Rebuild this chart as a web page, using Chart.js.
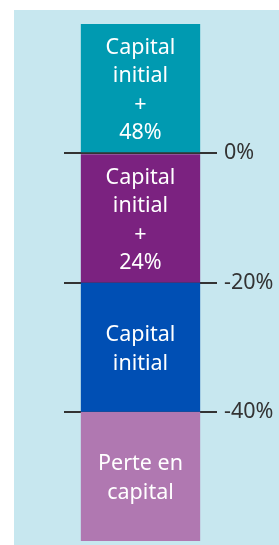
<!DOCTYPE html>
<html>
<head>
<meta charset="utf-8">
<script src="https://cdn.jsdelivr.net/npm/chart.js@4.4.0/dist/chart.umd.min.js"></script>
<style>
  html,body{margin:0;padding:0;background:#fff;}
  #wrap{position:relative;width:279px;height:545px;}
  #panel{position:absolute;left:14px;top:10px;right:0;bottom:0;background:#c7e7ef;}
  #c{position:absolute;left:0;top:0;}
</style>
</head>
<body>
<div id="wrap">
  <div id="panel"></div>
  <canvas id="c" width="279" height="545"></canvas>
</div>
<script>
// stacked segments, top to bottom
const segNames  = ['Capital initial + 48%', 'Capital initial + 24%', 'Capital initial', 'Perte en capital'];
const segLines  = [['Capital','initial','+','48%'], ['Capital','initial','+','24%'], ['Capital','initial'], ['Perte en','capital']];
const segValues = [20, -20, -20, -20];
const segColors = ['#009ab1', '#7b2280', '#004fb4', '#b078b1'];
const tickValues = [0, -20, -40];
const category = [''];

const FONT = '"Noto Sans", sans-serif';

const barText = {
  id:'barText',
  afterDraw(chart){
    const ctx = chart.ctx;
    ctx.save();
    ctx.fillStyle = '#ffffff';
    ctx.font = '21.5px ' + FONT;
    ctx.textAlign = 'center';
    ctx.textBaseline = 'middle';
    chart.data.datasets.forEach((ds,i)=>{
      const el = chart.getDatasetMeta(i).data[0];
      if (!el) return;
      const lines = segLines[i];
      const cy = (el.y + el.base)/2 + 2;
      const lh = 28.5;
      lines.forEach((t,k)=>{
        ctx.fillText(t, el.x, cy + (k-(lines.length-1)/2)*lh);
      });
    });
    ctx.restore();
  }
};

new Chart(document.getElementById('c'), {
  type:'bar',
  data:{
    labels:category,
    datasets:segNames.map((n,i)=>({
      label:n,
      data:[segValues[i]],
      backgroundColor:segColors[i],
      borderWidth:0,
      categoryPercentage:1,
      barPercentage:0.78
    }))
  },
  options:{
    responsive:false,
    animation:false,
    layout:{ padding:{ left:64, top:24, bottom:4, right:0 } },
    plugins:{ legend:{display:false}, tooltip:{enabled:false} },
    scales:{
      x:{ display:false, stacked:true },
      y:{
        stacked:true,
        position:'right',
        min:-60, max:20,
        z:1,
        afterBuildTicks:s=>{ s.ticks = tickValues.map(v=>({value:v})); },
        afterFit:s=>{ s.width = 62; s.paddingTop = 0; s.paddingBottom = 0; },
        border:{ display:false },
        grid:{ color:'#333333', lineWidth:2, drawTicks:false },
        ticks:{ padding:7, color:'#333333', font:{ family:FONT, size:21.5 }, callback:v=>v+'%' }
      }
    }
  },
  plugins:[barText]
});
</script>
</body>
</html>
